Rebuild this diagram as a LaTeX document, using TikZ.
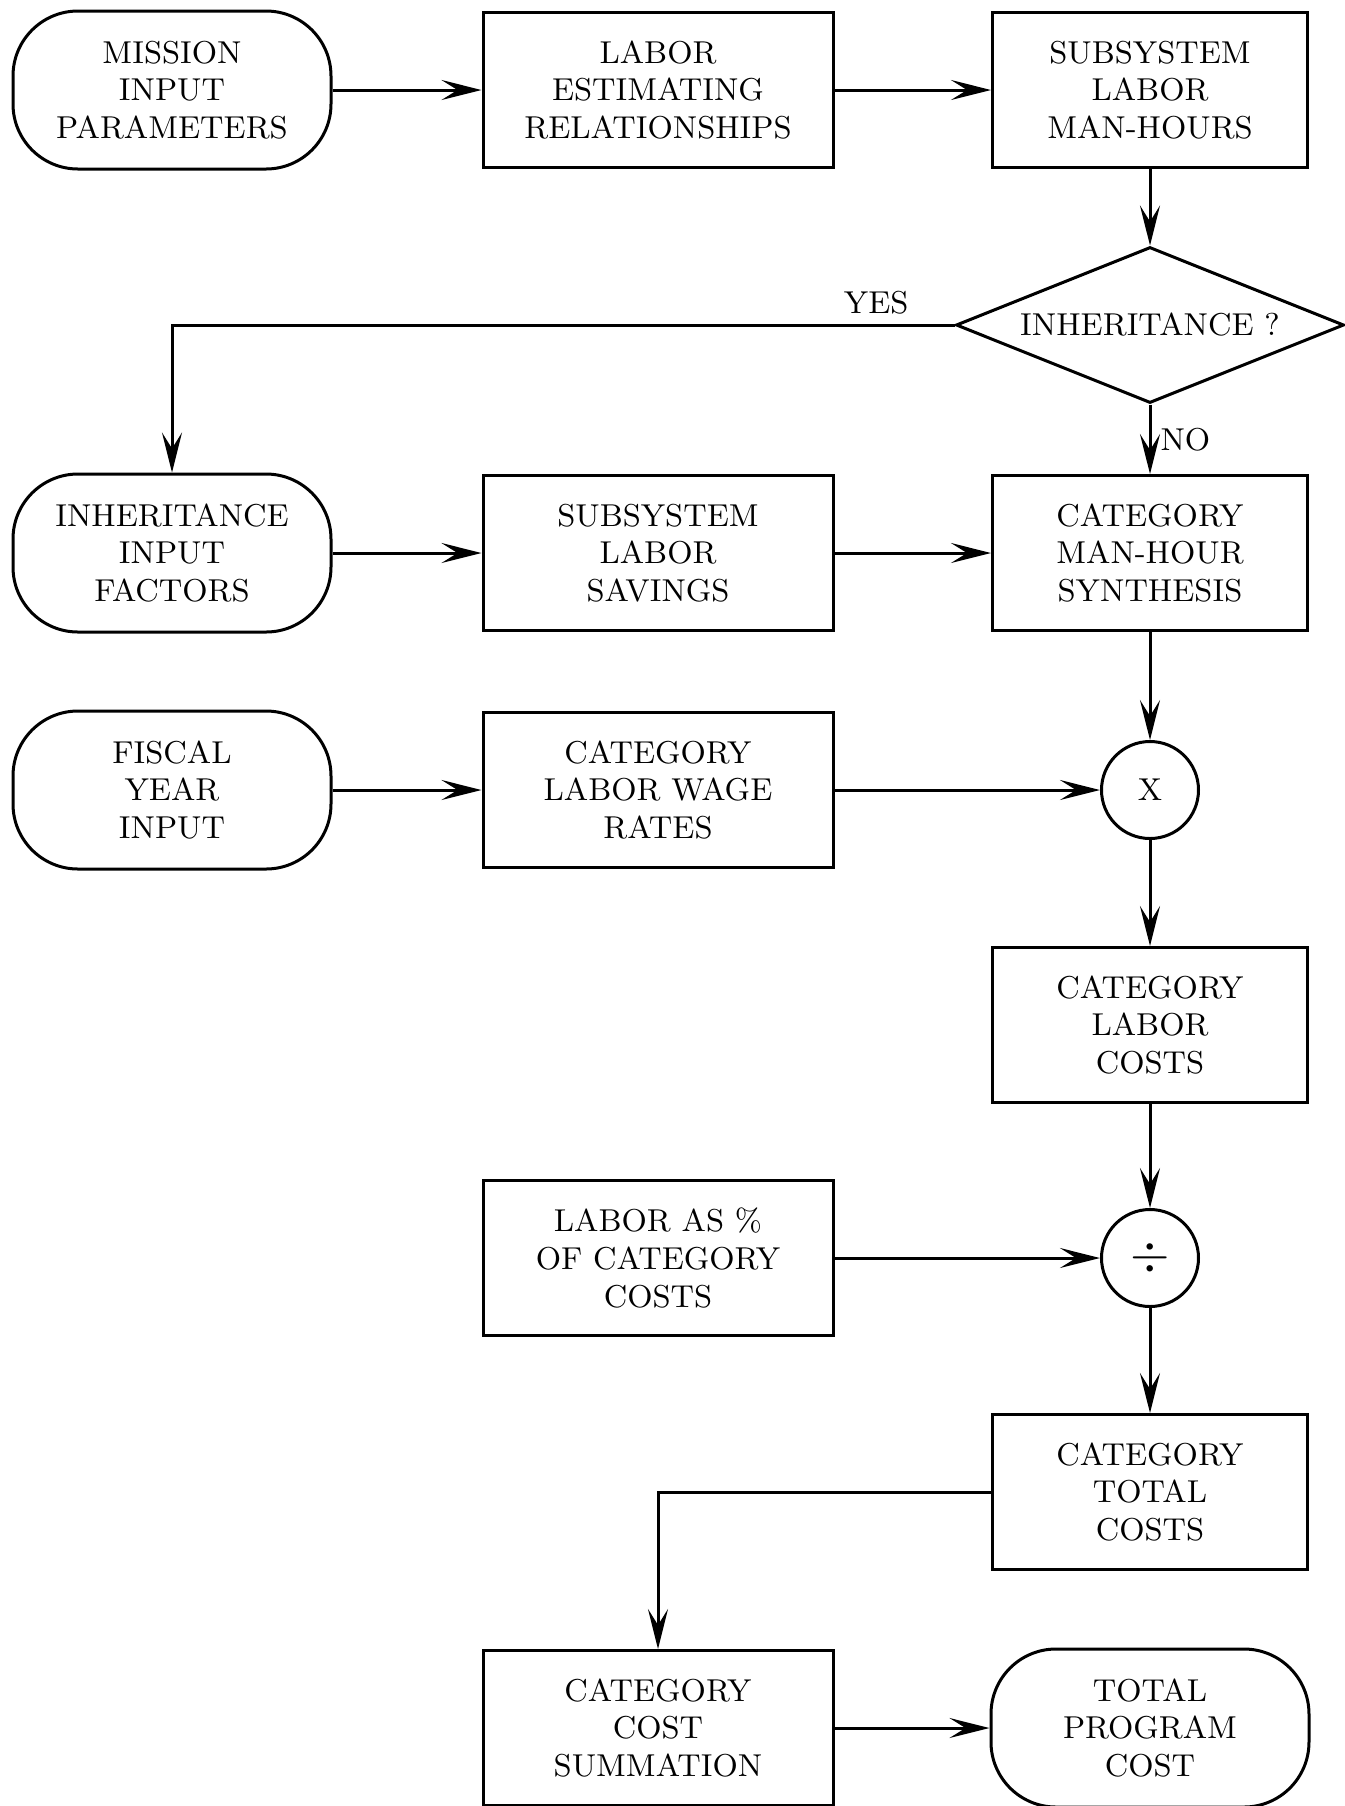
\documentclass[tikz,border=0pt]{standalone}
\usepackage{amssymb}
\usepackage{tikz}
\usetikzlibrary{arrows.meta,shapes.geometric,positioning}
\tikzset{
        block/.style = {draw, rectangle, line width=0.3mm,
            minimum height=1.55cm,
            minimum width=3.5cm, align=center},
        rblock/.style = {block, minimum width=3.15cm},
        term/.style = {draw, rectangle, rounded corners=6.5mm,
            line width=0.3mm, minimum height=1.58cm, minimum width=3.18cm,
            align=center},
        decision/.style = {draw, diamond, aspect=2.5, line width=0.3mm, inner sep=0pt,
            minimum width=3.88cm, minimum height=1.56cm},
        op/.style = {draw, circle, line width=0.3mm, minimum size=0.97cm, inner sep=0pt},
        arrow/.style = {draw, line width=0.3mm,
            -{Stealth[length=4mm,width=2mm,inset=1.6mm]}},
        tag/.style = {inner sep=0.9mm},
    }

\begin{document}
\begin{tikzpicture}[font=\fontsize{9}{10.7}\selectfont, on grid]
    \useasboundingbox (0,0) rectangle (13.45,-18.06);

    % top row
    \node[term] (mission) at (1.72,-0.90) {MISSION\\INPUT\\PARAMETERS};
    \node[block, right=4.86cm of mission] (estim) {LABOR\\ESTIMATING\\RELATIONSHIPS};
    \node[rblock, right=4.92cm of estim] (subsys) {SUBSYSTEM\\LABOR\\MAN-HOURS};

    \node[decision, below=2.35cm of subsys] (inher) {INHERITANCE ?};

    % inheritance row
    \node[rblock, below=2.28cm of inher] (synth) {CATEGORY\\MAN-HOUR\\SYNTHESIS};
    \node[block, left=4.92cm of synth] (savings) {SUBSYSTEM\\LABOR\\SAVINGS};
    \node[term, left=4.86cm of savings] (inhinput) {INHERITANCE\\INPUT\\FACTORS};

    % wage row
    \node[op, below=2.37cm of synth] (mult) {X};
    \node[block, left=4.92cm of mult] (wage) {CATEGORY\\LABOR WAGE\\RATES};
    \node[term, left=4.86cm of wage] (fiscal) {FISCAL\\YEAR\\INPUT};

    \node[rblock, below=2.35cm of mult] (labcost) {CATEGORY\\LABOR\\COSTS};

    \node[op, below=2.33cm of labcost] (divd) {\fontsize{14}{14}\selectfont$\div$};
    \node[block, left=4.92cm of divd] (pct) {LABOR AS \%\\OF CATEGORY\\COSTS};

    \node[rblock, below=2.34cm of divd] (total) {CATEGORY\\TOTAL\\COSTS};

    % bottom row
    \node[term, below=2.36cm of total] (program) {TOTAL\\PROGRAM\\COST};
    \node[block, left=4.92cm of program] (summ) {CATEGORY\\COST\\SUMMATION};

    \path[arrow] (mission) -- (estim);
    \path[arrow] (estim) -- (subsys);
    \path[arrow] (subsys) -- (inher);
    \path[arrow] (inher.west) -| (inhinput.north)
        node [tag, pos=0.05, above] {YES};
    \path[arrow] (inher.south) -- (synth.north)
        node [tag, pos=0.5, right] {NO};
    \path[arrow] (inhinput) -- (savings);
    \path[arrow] (savings) -- (synth);
    \path[arrow] (synth) -- (mult);
    \path[arrow] (fiscal) -- (wage);
    \path[arrow] (wage) -- (mult);
    \path[arrow] (mult) -- (labcost);
    \path[arrow] (labcost) -- (divd);
    \path[arrow] (pct) -- (divd);
    \path[arrow] (divd) -- (total);
    \path[arrow] (total.west) -| (summ.north);
    \path[arrow] (summ) -- (program);
\end{tikzpicture}
\end{document}
